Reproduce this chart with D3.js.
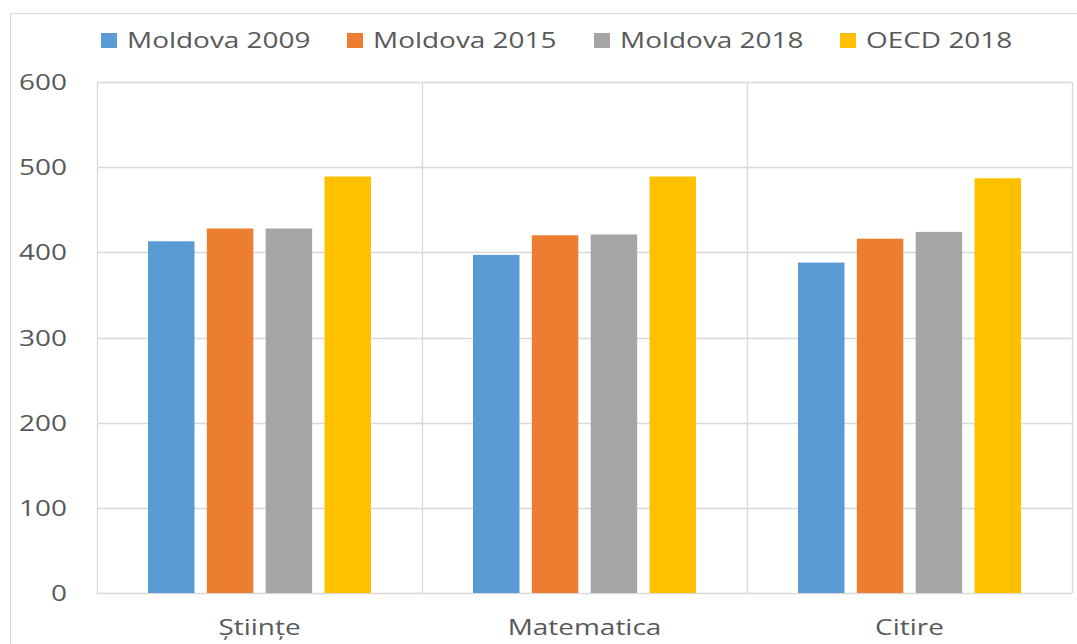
<!DOCTYPE html>
<html><head><meta charset="utf-8">
<script src="https://cdn.jsdelivr.net/npm/d3@7"></script>
<style>body{margin:0;background:#fff}svg{display:block}text{font-family:"Open Sans",sans-serif;fill:#595959}</style>
</head><body>
<svg id="c" width="1077" height="644"></svg>
<script>
const categories = ["Științe", "Matematica", "Citire"];
const seriesNames = ["Moldova 2009", "Moldova 2015", "Moldova 2018", "OECD 2018"];
const moldova2009 = [413, 397, 388];
const moldova2015 = [428, 420, 416];
const moldova2018 = [428, 421, 424];
const oecd2018 = [489, 489, 487];
const yTicks = [0, 100, 200, 300, 400, 500, 600];
const colors = ["#5B9BD5", "#ED7D31", "#A5A5A5", "#FFC000"];

const seriesValues = [moldova2009, moldova2015, moldova2018, oecd2018];
const svg = d3.select("#c");
const SX = 1.3, FS = 21.5;
const plot = {l: 97, r: 1072, t: 82, b: 593};

// outer frame
svg.append("rect").attr("x", 10.5).attr("y", 13.5).attr("width", 1100).attr("height", 700)
  .attr("fill", "none").attr("stroke", "#D9D9D9").attr("stroke-width", 1);

const x0 = d3.scaleBand().domain(categories).range([plot.l, plot.r]).padding(0);
const y = d3.scaleLinear().domain([0, 600]).range([plot.b, plot.t]);
const groupInset = 51;
const x1 = d3.scaleBand().domain(seriesNames)
  .range([groupInset, x0.bandwidth() - groupInset]).paddingInner(0.21).paddingOuter(0);

function stext(sel, x, yy, str, anchor) {
  const g = sel.append("g").attr("transform", `translate(${x},${yy}) scale(${SX},1)`);
  g.append("text").attr("text-anchor", anchor).attr("font-size", FS).text(str);
}

// horizontal gridlines
svg.append("g").selectAll("line").data(yTicks).join("line")
  .attr("x1", plot.l).attr("x2", plot.r)
  .attr("y1", d => Math.round(y(d)) + 0.5).attr("y2", d => Math.round(y(d)) + 0.5)
  .attr("stroke", "#D9D9D9").attr("stroke-width", 1.3);
// vertical category separators
const seps = categories.map(c => x0(c)).concat([plot.r]);
svg.append("g").selectAll("line").data(seps).join("line")
  .attr("x1", d => Math.round(d) + 0.5).attr("x2", d => Math.round(d) + 0.5)
  .attr("y1", plot.t).attr("y2", plot.b)
  .attr("stroke", "#D9D9D9").attr("stroke-width", 1.3);

// bars
seriesNames.forEach((s, si) => {
  svg.append("g").selectAll("rect").data(categories).join("rect")
    .attr("x", (c) => x0(c) + x1(s))
    .attr("width", x1.bandwidth())
    .attr("y", (c, i) => y(seriesValues[si][i]))
    .attr("height", (c, i) => y(0) - y(seriesValues[si][i]))
    .attr("fill", colors[si]);
});

// y tick labels
yTicks.forEach(t => stext(svg, 67, y(t) + 8, String(t), "end"));
// category labels
categories.forEach(c => stext(svg, x0(c) + x0.bandwidth() / 2, 635, c, "middle"));

// legend
const legX = [101, 347, 594, 840];
seriesNames.forEach((s, i) => {
  svg.append("rect").attr("x", legX[i]).attr("y", 33).attr("width", 16).attr("height", 15).attr("fill", colors[i]);
  stext(svg, legX[i] + 26, 48, s, "start");
});
</script>
</body></html>
